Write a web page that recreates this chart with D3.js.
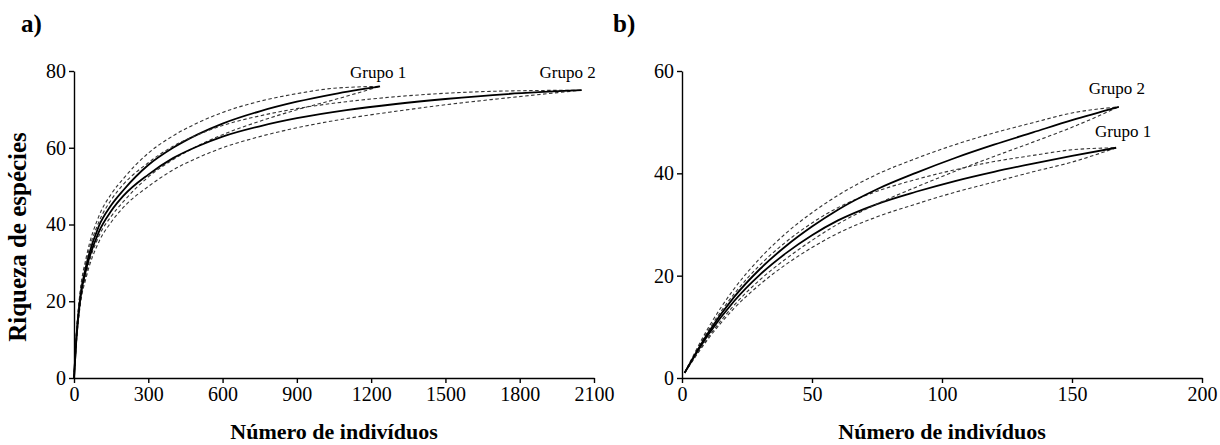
<!DOCTYPE html>
<meta charset="utf-8">
<script src="https://d3js.org/d3.v7.min.js"></script>
<style>
  body { margin: 0; background: #fff; }
  text { font-family: "Liberation Serif", "Times New Roman", serif; }
</style>
<div id="chart"></div>
<script>

// ---- panel a) ----
const aGroup1N  = [0, 10, 25, 50, 100, 150, 200, 300, 400, 500, 600, 750, 900, 1050, 1236];
const aGroup1S  = [0, 11, 21, 29.5, 39.5, 45, 49, 55.5, 60, 63.5, 66.3, 69.5, 72, 74, 76];
const aGroup1Lo = [0, 10, 19.4, 27.4, 36.9, 42.1, 46, 52.4, 56.9, 60.5, 63.4, 66.9, 69.9, 72.5, 76];
const aGroup1Hi = [0, 12, 22.6, 31.6, 42.1, 47.9, 52, 58.6, 63.1, 66.5, 69.2, 72.1, 74.1, 75.5, 76];

const aGroup2N  = [0, 10, 25, 50, 100, 150, 200, 300, 400, 500, 600, 750, 900, 1100, 1300, 1500, 1750, 2050];
const aGroup2S  = [0, 10.5, 20.5, 28.5, 38, 43.5, 47.5, 53, 57.3, 60.4, 62.9, 65.6, 67.7, 69.8, 71.4, 72.7, 74, 75];
const aGroup2Lo = [0, 9.5, 18.9, 26.4, 35.4, 40.6, 44.5, 49.9, 54.2, 57.4, 60, 62.9, 65.2, 67.6, 69.5, 71.2, 73, 75];
const aGroup2Hi = [0, 11.5, 22.1, 30.6, 40.6, 46.4, 50.5, 56.1, 60.4, 63.4, 65.8, 68.3, 70.2, 72, 73.3, 74.2, 74.8, 75];

const aXTicks = [0, 300, 600, 900, 1200, 1500, 1800, 2100];
const aYTicks = [0, 20, 40, 60, 80];

// ---- panel b) ----
const bGroup1N  = [1, 10, 20, 30, 40, 50, 60, 75, 90, 105, 120, 135, 150, 167];
const bGroup1S  = [1, 8.4, 15, 20.2, 24.4, 27.9, 30.8, 34, 36.4, 38.5, 40.3, 41.9, 43.4, 45];
const bGroup1Lo = [1, 7.6, 13.6, 18.3, 22.2, 25.5, 28.3, 31.5, 34, 36.3, 38.3, 40.3, 42.2, 45];
const bGroup1Hi = [1, 9.2, 16.4, 22.1, 26.6, 30.3, 33.3, 36.5, 38.8, 40.7, 42.3, 43.5, 44.6, 45];

const bGroup2N  = [1, 10, 20, 30, 40, 50, 60, 75, 90, 105, 120, 135, 150, 168];
const bGroup2S  = [1, 8.8, 15.8, 21.3, 25.8, 29.6, 32.9, 36.9, 40.1, 43, 45.6, 48, 50.4, 53];
const bGroup2Lo = [1, 7.9, 14.2, 19.2, 23.3, 26.9, 30.1, 34, 37.3, 40.4, 43.3, 46.1, 49, 53];
const bGroup2Hi = [1, 9.7, 17.4, 23.4, 28.3, 32.3, 35.7, 39.8, 42.9, 45.6, 47.9, 49.9, 51.8, 53];

const bXTicks = [0, 50, 100, 150, 200];
const bYTicks = [0, 20, 40, 60];

const svg = d3.select("#chart")
  .append("svg")
    .attr("width", 1220)
    .attr("height", 445);

function toPoints(ns, ss) {
  return ns.map((n, i) => [n, ss[i]]);
}

function drawPanel(p) {
  const x = d3.scaleLinear().domain(p.xDomain).range([p.left, p.right]);
  const y = d3.scaleLinear().domain(p.yDomain).range([p.bottom, p.top]);

  const line = d3.line()
    .x(d => x(d[0]))
    .y(d => y(d[1]))
    .curve(d3.curveMonotoneX);

  const g = svg.append("g");

  // confidence limits (dashed) then the mean curves
  p.groups.forEach(gr => {
    [gr.lo, gr.hi].forEach(arr => {
      g.append("path")
        .attr("d", line(toPoints(gr.n, arr)))
        .attr("fill", "none")
        .attr("stroke", "#333")
        .attr("stroke-width", 1.1)
        .attr("stroke-dasharray", "3.5,2.5");
    });
    g.append("path")
      .attr("d", line(toPoints(gr.n, gr.s)))
      .attr("fill", "none")
      .attr("stroke", "#000")
      .attr("stroke-width", 1.8);

    g.append("text")
      .attr("x", x(gr.n[gr.n.length - 1]) + gr.dx)
      .attr("y", y(gr.s[gr.s.length - 1]) + gr.dy)
      .attr("text-anchor", "middle")
      .attr("font-size", "17px")
      .text(gr.label);
  });

  // axes
  const xAxis = g.append("g")
    .attr("transform", `translate(0,${p.bottom})`)
    .call(d3.axisBottom(x).tickValues(p.xTicks).tickFormat(d3.format("d"))
      .tickSize(5).tickSizeOuter(0).tickPadding(4));
  const yAxis = g.append("g")
    .attr("transform", `translate(${p.left},0)`)
    .call(d3.axisLeft(y).tickValues(p.yTicks).tickFormat(d3.format("d"))
      .tickSize(5).tickSizeOuter(0).tickPadding(3));

  [xAxis, yAxis].forEach(ax => {
    ax.selectAll("path, line").attr("stroke", "#000").attr("stroke-width", 1.4);
    ax.selectAll("text")
      .attr("font-size", "20px")
      .attr("fill", "#000");
  });

  // x label
  g.append("text")
    .attr("x", (p.left + p.right) / 2)
    .attr("y", 439)
    .attr("text-anchor", "middle")
    .attr("font-weight", "bold")
    .attr("font-size", "22px")
    .text("Número de indivíduos");

  // panel letter
  g.append("text")
    .attr("x", p.letterX)
    .attr("y", 32)
    .attr("font-weight", "bold")
    .attr("font-size", "25px")
    .text(p.letter);
}

drawPanel({
  letter: "a)", letterX: 21,
  left: 74, right: 594, top: 71, bottom: 378,
  xDomain: [0, 2100], yDomain: [0, 80],
  xTicks: aXTicks, yTicks: aYTicks,
  groups: [
    {label: "Grupo 1", n: aGroup1N, s: aGroup1S, lo: aGroup1Lo, hi: aGroup1Hi, dx: -2, dy: -8},
    {label: "Grupo 2", n: aGroup2N, s: aGroup2S, lo: aGroup2Lo, hi: aGroup2Hi, dx: -14, dy: -12}
  ]
});

drawPanel({
  letter: "b)", letterX: 613,
  left: 682, right: 1202, top: 71, bottom: 378,
  xDomain: [0, 200], yDomain: [0, 60],
  xTicks: bXTicks, yTicks: bYTicks,
  groups: [
    {label: "Grupo 1", n: bGroup1N, s: bGroup1S, lo: bGroup1Lo, hi: bGroup1Hi, dx: 7, dy: -11},
    {label: "Grupo 2", n: bGroup2N, s: bGroup2S, lo: bGroup2Lo, hi: bGroup2Hi, dx: -2, dy: -13}
  ]
});

// y label (only on panel a)
svg.append("text")
  .attr("transform", "translate(26,237) rotate(-90)")
  .attr("text-anchor", "middle")
  .attr("font-weight", "bold")
  .attr("font-size", "25px")
  .text("Riqueza de espécies");

</script>
